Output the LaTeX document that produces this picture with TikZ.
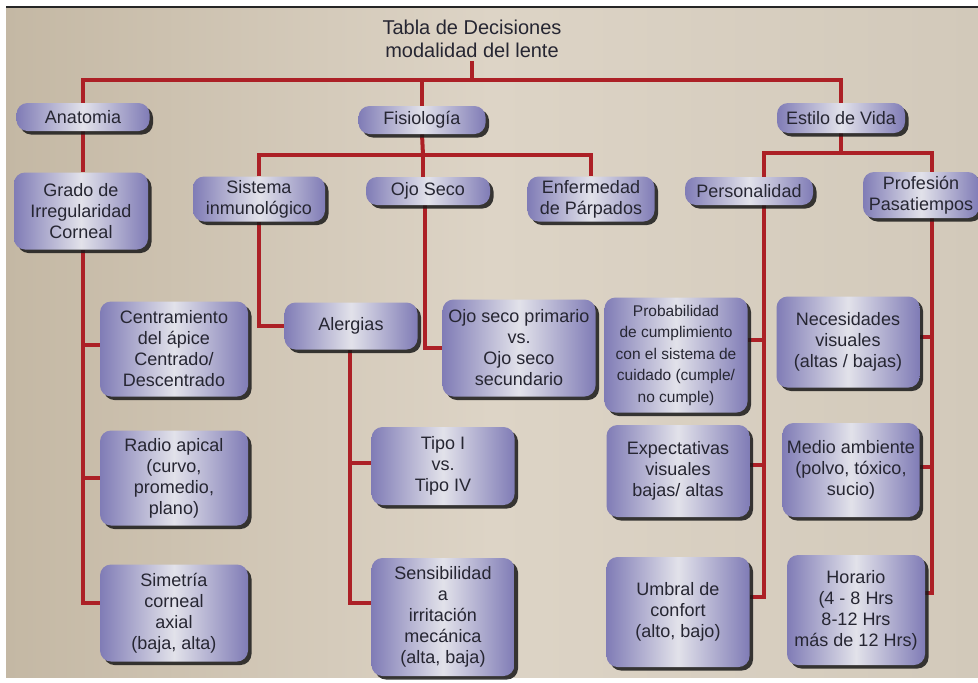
\documentclass[tikz,border=0pt]{standalone}
\usepackage{fontspec}
\setmainfont{Liberation Sans}
\usepackage{xcolor}
\usetikzlibrary{shadows}

\definecolor{paperA}{RGB}{196,184,164}
\definecolor{paperB}{RGB}{221,212,198}
\definecolor{paperC}{RGB}{210,201,186}
\definecolor{boxedge}{RGB}{128,124,182}
\definecolor{boxmid}{RGB}{226,226,234}
\definecolor{boxtext}{RGB}{38,38,50}
\definecolor{linkred}{RGB}{172,32,38}

\pgfdeclarelayer{paper}
\pgfdeclarelayer{back}
\pgfsetlayers{paper,back,main}

\tikzset{
    lbox/.style={rounded corners=11pt,
        left color=boxedge, right color=boxedge, middle color=boxmid,
        text=boxtext, align=center, inner sep=2pt,
        font=\fontsize{18}{21}\selectfont,
        drop shadow={shadow xshift=3.5pt, shadow yshift=-3.5pt, fill=black!90, opacity=.85}},
    link/.style={linkred, line width=4pt},
}

\begin{document}
\begin{tikzpicture}[x=1pt, y=-1pt]
    \useasboundingbox (0,0) rectangle (978,683);

    %% paper
    \begin{pgfonlayer}{paper}
        \fill[white] (0,0) rectangle (978,683);
        \shade[left color=paperA, right color=paperC, middle color=paperB] (6,7) rectangle (978,677);
        \draw[black!85, line width=2pt] (6,7) -- (978,7);
    \end{pgfonlayer}

    %% title
    \node[text=boxtext, align=center, font=\fontsize{20}{23}\selectfont] (title) at (472,39)
        {Tabla de Decisiones\\modalidad del lente};

    %% level 1
    \node[lbox, minimum width=133, minimum height=28] (anat)   at (83,117)  {Anatomia};
    \node[lbox, minimum width=127, minimum height=28] (fisio)  at (422,120) {Fisiología};
    \node[lbox, minimum width=128, minimum height=30] (estilo) at (841,118) {Estilo de Vida};

    %% level 2
    \node[lbox, minimum width=134, minimum height=77] (grado) at (81,211)  {Grado de\\Irregularidad\\Corneal};
    \node[lbox, minimum width=132, minimum height=45] (sist)  at (259,199) {Sistema\\inmunológico};
    \node[lbox, minimum width=124, minimum height=28] (ojo)   at (428,191) {Ojo Seco};
    \node[lbox, minimum width=127, minimum height=45] (enf)   at (591,199) {Enfermedad\\de Párpados};
    \node[lbox, minimum width=128, minimum height=28] (pers)  at (749,191) {Personalidad};
    \node[lbox, minimum width=116, minimum height=46] (prof)  at (921,195) {Profesión\\Pasatiempos};

    %% Anatomia
    \node[lbox, minimum width=148, minimum height=95] (centr) at (174,349) {Centramiento\\del ápice\\Centrado/\\Descentrado};
    \node[lbox, minimum width=148, minimum height=95] (radio) at (174,478) {Radio apical\\(curvo,\\promedio,\\plano)};
    \node[lbox, minimum width=148, minimum height=97] (sime)  at (174,613) {Simetría\\corneal\\axial\\(baja, alta)};

    %% Fisiologia
    \node[lbox, minimum width=133, minimum height=47]  (alerg)   at (351,326) {Alergias};
    \node[lbox, minimum width=143, minimum height=78]  (tipo)    at (443,466) {Tipo I\\vs.\\Tipo IV};
    \node[lbox, minimum width=143, minimum height=118] (sens)    at (443,617) {Sensibilidad\\a\\irritación\\mecánica\\(alta, baja)};
    \node[lbox, minimum width=153, minimum height=97]  (ojoprim) at (519,348) {Ojo seco primario\\vs.\\Ojo seco\\secundario};

    %% Estilo de Vida
    \node[lbox, minimum width=143, minimum height=115, font=\fontsize{15.5}{21.5}\selectfont] (prob) at (676,355)
        {Probabilidad\\de cumplimiento\\con el sistema de\\cuidado (cumple/\\no cumple)};
    \node[lbox, minimum width=143, minimum height=92]  (expec)   at (678,471) {Expectativas\\visuales\\bajas/ altas};
    \node[lbox, minimum width=143, minimum height=110] (umbral)  at (678,612) {Umbral de\\confort\\(alto, bajo)};
    \node[lbox, minimum width=143, minimum height=91]  (neces)   at (848,342) {Necesidades\\visuales\\(altas / bajas)};
    \node[lbox, minimum width=137, minimum height=94]  (medio)   at (851,470) {Medio ambiente\\(polvo, tóxico,\\sucio)};
    \node[lbox, minimum width=138, minimum height=110] (horario) at (856,610) {Horario\\(4 - 8 Hrs\\8-12 Hrs\\más de 12 Hrs)};

    %% connectors
    \coordinate (topbar) at (472,80);
    \coordinate (fisbar) at (423,155);
    \coordinate (estbar) at (841,153);
    \coordinate (alergstem) at (350,350);
    \coordinate (ojostem) at (425,205);
    \coordinate (persstem) at (764,205);
    \coordinate (profstem) at (932,218);

    \begin{pgfonlayer}{back}
        % tabla
        \draw[link] (title.south) -- (topbar);
        \draw[link] (anat.north) |- (topbar) -| (estilo.north);
        \draw[link] (fisio.north) -- (fisio.north |- topbar);

        % anatomia
        \draw[link] (anat.south) -- (anat.south |- grado.north);
        \draw[link] (grado.south -| anat.south) |- ([yshift=10pt]sime.west);
        \draw[link] ([yshift=4pt]centr.west -| anat.south) -- ([yshift=4pt]centr.west);
        \draw[link] (radio.west -| anat.south) -- (radio.west);

        % fisiologia
        \draw[link] (fisio.south) -- (fisbar);
        \draw[link] (sist.north) |- (fisbar) -| (enf.north);
        \draw[link] (fisbar) -- (fisbar |- ojo.north);
        \draw[link] (sist.south) |- (alerg.west);
        \draw[link] (alergstem) |- ([yshift=14pt]sens.west);
        \draw[link] ([yshift=3pt]tipo.west -| alergstem) -- ([yshift=3pt]tipo.west);
        \draw[link] (ojostem) |- (ojoprim.west);

        % estilo de vida
        \draw[link] (estilo.south) -- (estbar);
        \draw[link] (pers.north -| persstem) |- (estbar) -| (prof.north -| profstem);
        \draw[link] (persstem) |- ([yshift=15pt]umbral.east);
        \draw[link] ([yshift=15pt]prob.east) -| (persstem);
        \draw[link] ([yshift=6pt]expec.east) -- ([yshift=6pt]expec.east -| persstem);
        \draw[link] (profstem) |- ([yshift=17pt]horario.east);
        \draw[link] ([yshift=5pt]neces.east) -- ([yshift=5pt]neces.east -| profstem);
        \draw[link] ([yshift=3pt]medio.east) -- ([yshift=3pt]medio.east -| profstem);
    \end{pgfonlayer}
\end{tikzpicture}
\end{document}
